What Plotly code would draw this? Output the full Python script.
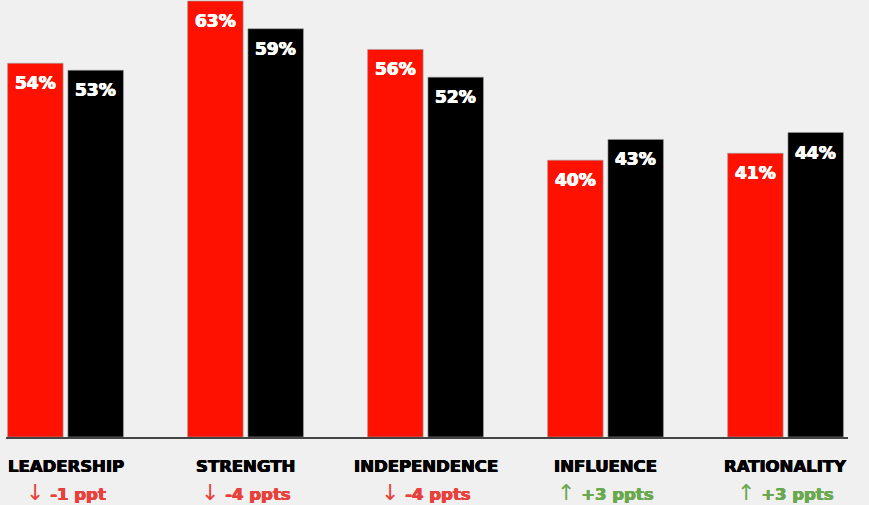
import plotly.graph_objects as go

categories = ["LEADERSHIP", "STRENGTH", "INDEPENDENCE", "INFLUENCE", "RATIONALITY"]
series_a = [54, 63, 56, 40, 41]   # red
series_b = [53, 59, 52, 43, 44]   # black
changes = ["-1 ppt", "-4 ppts", "-4 ppts", "+3 ppts", "+3 ppts"]
directions = ["down", "down", "down", "up", "up"]

RED = "#ff1100"
BLACK = "#000000"
DOWN_C = "#e8403a"
UP_C = "#6aa84f"
BG = "#f0f0f0"
FONT = "DejaVu Sans"


def heavy(c):
    return f"0.5px 0 0 {c}, -0.5px 0 0 {c}, 0 0.4px 0 {c}"


xs = list(range(len(categories)))

fig = go.Figure()
fig.add_trace(go.Bar(x=xs, y=series_a, marker=dict(color=RED, line=dict(color="#9a9a9a", width=0.6)),
                     hoverinfo="skip"))
fig.add_trace(go.Bar(x=xs, y=series_b, marker=dict(color=BLACK, line=dict(color="#9a9a9a", width=0.6)),
                     hoverinfo="skip"))

annotations = []
for i, (a, b) in enumerate(zip(series_a, series_b)):
    for v, shift in ((a, -30.2), (b, 30.2)):
        annotations.append(dict(x=i, y=v, xref="x", yref="y", text=f"{v}%", showarrow=False,
                                xshift=shift, yshift=-20, yanchor="middle",
                                font=dict(family=FONT, size=17, color="white", weight="bold",
                                          shadow=heavy("white"))))
    annotations.append(dict(x=i, y=0, xref="x", yref="y", text=categories[i], showarrow=False,
                            yshift=-29, yanchor="middle",
                            font=dict(family=FONT, size=16.5, color="black", weight="bold",
                                      shadow=heavy("black"))))
    col = DOWN_C if directions[i] == "down" else UP_C
    arrow = "↓" if directions[i] == "down" else "↑"
    annotations.append(dict(x=i, y=0, xref="x", yref="y",
                            text=f"<span style='font-weight:normal;font-size:22px;text-shadow:none'>{arrow}</span> {changes[i]}",
                            showarrow=False, yshift=-55, yanchor="middle",
                            font=dict(family=FONT, size=16.5, color=col, weight="bold",
                                      shadow=heavy(col))))

fig.update_layout(
    width=869, height=505,
    margin=dict(l=6, r=21, t=0, b=68),
    paper_bgcolor=BG, plot_bgcolor=BG,
    barmode="group", bargap=0.33, bargroupgap=0.08,
    showlegend=False,
    annotations=annotations,
    xaxis=dict(range=[-0.3306, 4.347], showticklabels=False, showgrid=False, zeroline=False,
               showline=True, linecolor="#444444", linewidth=1.5, ticks=""),
    yaxis=dict(range=[0, 63.15], visible=False, showgrid=False, zeroline=False),
)

fig.write_html("out.html")
